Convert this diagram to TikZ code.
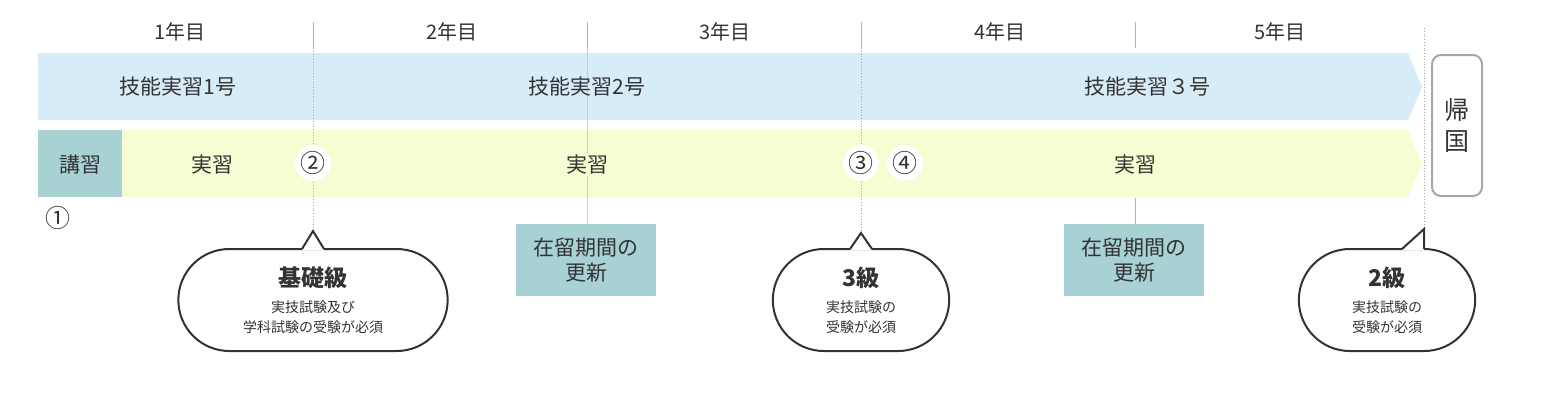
\documentclass[tikz,border=0pt]{standalone}
\usepackage{fontspec}
\setmainfont{Noto Sans CJK JP}
\usetikzlibrary{shapes.misc}
\definecolor{bl}{HTML}{D7ECF7}
\definecolor{ye}{HTML}{F8FCD2}
\definecolor{te}{HTML}{A8D1D4}
\definecolor{dk}{HTML}{333333}
\begin{document}
\begin{tikzpicture}[x=1pt,y=-1pt,
  yr/.style={font=\fontsize{20}{20}\selectfont,text=dk},
  lab/.style={font=\fontsize{21}{21}\selectfont,text=dk},
  num/.style={circle,fill=white,inner sep=0.5pt,font=\fontsize{25}{25}\selectfont,text=dk},
  tick/.style={gray!60,line width=1pt},
  dot/.style={gray!70,line width=0.8pt,dotted},
  box/.style={fill=te,minimum width=140pt,minimum height=72pt,align=center,font=\fontsize{21}{25}\selectfont,text=dk},
  ball/.style={rounded rectangle,draw=dk,line width=2pt,fill=white,align=center,text=dk},
  big/.style={font=\fontsize{23}{26}\selectfont\bfseries},
  sm/.style={font=\fontsize{14}{20}\selectfont}]
\useasboundingbox (0,0) rectangle (1544,402);
% ticks
\foreach \x in {313,587,861,1135}{\draw[tick] (\x,22) -- (\x,48);}
\node[yr] (y1) at (180,32) {1年目};
\node[yr] (y2) at (452,32) {2年目};
\node[yr] (y3) at (725,32) {3年目};
\node[yr] (y4) at (1000,32) {4年目};
\node[yr] (y5) at (1280,32) {5年目};
% bands
\fill[bl] (38,53) -- (1408,53) -- (1422,87) -- (1408,120) -- (38,120) -- cycle;
\fill[ye] (38,130) -- (1408,130) -- (1422,164) -- (1408,197) -- (38,197) -- cycle;
\fill[te] (38,130) rectangle (122,197);
% vertical guides
\draw[dot] (313,48) -- (313,230);
\draw[dot] (861,48) -- (861,232);
\draw[dot] (1424,28) -- (1424,245);
\draw[tick,gray!40] (587,48) -- (587,224);
\draw[tick] (1135,198) -- (1135,224);
\node[lab] (g1) at (178,87) {技能実習1号};
\node[lab] (g2) at (587,87) {技能実習2号};
\node[lab] (g3) at (1147,87) {技能実習３号};
\node[lab] (k) at (80,165) {講習};
\node[lab] (j1) at (212,165) {実習};
\node[lab,fill=ye,inner sep=1pt] (j2) at (587,165) {実習};
\node[lab] (j3) at (1135,165) {実習};
\node[num] (n2) at (313,163) {②};
\node[num] (n3) at (861,163) {③};
\node[num] (n4) at (905,163) {④};
\node[num,fill=none] (n1) at (58,218) {①};
% return box
\node[draw=gray!70,line width=2pt,rounded corners=9pt,minimum width=50pt,minimum height=141pt,align=center,font=\fontsize{25}{31}\selectfont,text=dk] (ret) at (1457,125.5) {帰\\国};
% update boxes
\node[box] (u1) at (586,260) {在留期間の\\更新};
\node[box] (u2) at (1134,260) {在留期間の\\更新};
% balloons
\node[ball,minimum width=276pt,minimum height=102pt] (b1) at (313,300) {};
\node[big,text=dk] at (313,278) {基礎級};
\node[sm,text=dk,align=center] at (313,317) {実技試験及び\\学科試験の受験が必須};
\fill[white] (302,250) -- (313,231) -- (324,250) -- cycle;
\draw[dk,line width=2pt,line join=miter] (302,249) -- (313,231) -- (324,249);
\node[ball,minimum width=183pt,minimum height=102pt] (b2) at (861,300) {};
\node[big,text=dk] at (861,278) {3級};
\node[sm,text=dk,align=center] at (861,317) {実技試験の\\受験が必須};
\fill[white] (850,250) -- (861,233) -- (872,250) -- cycle;
\draw[dk,line width=2pt] (850,249) -- (861,233) -- (872,249);
\node[ball,minimum width=183pt,minimum height=102pt] (b3) at (1387,300) {};
\node[big,text=dk] at (1387,278) {2級};
\node[sm,text=dk,align=center] at (1387,317) {実技試験の\\受験が必須};
\fill[white] (1402,250) -- (1424,229) -- (1424,250) -- cycle;
\draw[dk,line width=2pt] (1402,249) -- (1424,229) -- (1424,249);
\end{tikzpicture}
\end{document}
